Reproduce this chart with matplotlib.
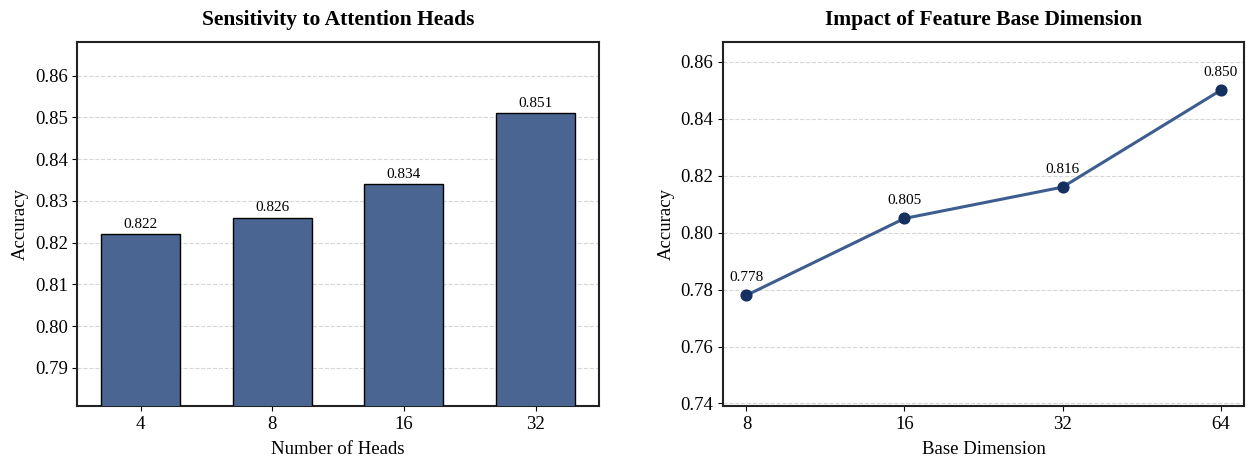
"""Hyperparameter sensitivity: attention heads and feature base dimension."""

import matplotlib

matplotlib.use("Agg")
import matplotlib.pyplot as plt

plt.rcParams["font.family"] = ["Liberation Serif", "DejaVu Serif"]

heads = ["4", "8", "16", "32"]
heads_acc = [0.822, 0.826, 0.834, 0.851]

base_dims = ["8", "16", "32", "64"]
base_acc = [0.778, 0.805, 0.816, 0.850]

BAR_COLOR = "#4a6591"
LINE_COLOR = "#3d5d8f"
MARKER_COLOR = "#14305f"

fig, (ax1, ax2) = plt.subplots(1, 2, figsize=(12.48, 4.59), dpi=100)
fig.subplots_adjust(left=0.062, right=0.997, top=0.9085, bottom=0.1155, wspace=0.2375)

# bar chart: number of heads
x1 = range(len(heads))
ax1.bar(x1, heads_acc, width=0.6, color=BAR_COLOR, edgecolor="black", linewidth=1.0, zorder=3)
for i, v in enumerate(heads_acc):
    ax1.text(i, v + 0.0008, f"{v:.3f}", ha="center", va="bottom", fontsize=11)
ax1.set_xticks(list(x1))
ax1.set_xticklabels(heads)
ax1.set_ylim(min(heads_acc) * 0.95, max(heads_acc) * 1.02)
ax1.set_xlabel("Number of Heads", fontsize=13.5, labelpad=6)
ax1.set_ylabel("Accuracy", fontsize=13.5)
ax1.set_title("Sensitivity to Attention Heads", fontsize=15.5, fontweight="bold", pad=12)

# line chart: base dimension
x2 = list(range(len(base_dims)))
ax2.plot(x2, base_acc, color=LINE_COLOR, linewidth=2.2, zorder=3)
ax2.scatter(x2, base_acc, s=60, color=MARKER_COLOR, zorder=4)
for i, v in zip(x2, base_acc):
    ax2.annotate(f"{v:.3f}", (i, v), textcoords="offset points", xytext=(0, 8),
                 ha="center", va="bottom", fontsize=11)
ax2.set_xticks(x2)
ax2.set_xticklabels(base_dims)
ax2.set_ylim(min(base_acc) * 0.95, max(base_acc) * 1.02)
ax2.set_xlabel("Base Dimension", fontsize=13.5, labelpad=6)
ax2.set_ylabel("Accuracy", fontsize=13.5)
ax2.set_title("Impact of Feature Base Dimension", fontsize=15.5, fontweight="bold", pad=12)

for ax in (ax1, ax2):
    ax.grid(axis="y", linestyle="--", color="#cccccc", alpha=0.8, zorder=0)
    ax.set_axisbelow(True)
    ax.tick_params(labelsize=13.5)
    for s in ax.spines.values():
        s.set_linewidth(1.5)
        s.set_color("#222222")

fig.savefig("out.png", dpi=100)
